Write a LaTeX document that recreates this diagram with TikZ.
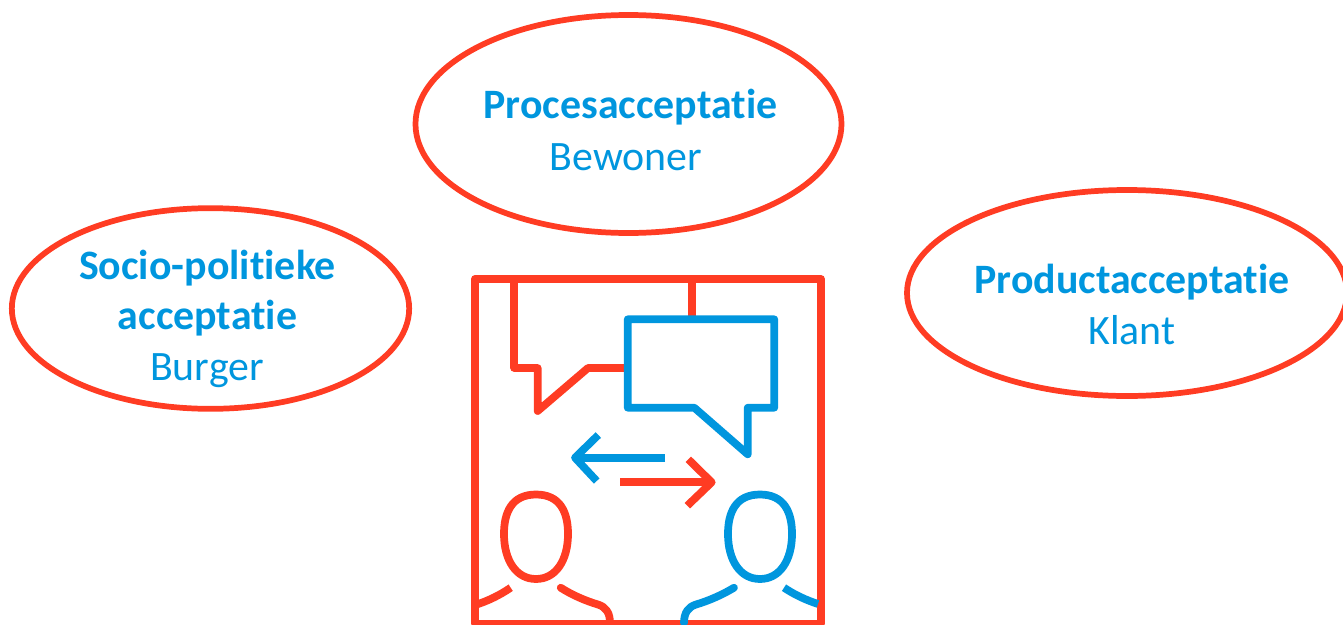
\documentclass[tikz,border=0pt]{standalone}
\usepackage{fontspec}
\setmainfont[Ligatures=NoCommon]{Carlito}
\usetikzlibrary{shapes.geometric}

\begin{document}
\begin{tikzpicture}[x=0.75pt,y=-0.75pt,
	ring/.style={draw=ringred,line width=4.3pt,ellipse,inner sep=0pt},
	title/.style={text=textblue,font=\fontsize{31.4}{31.4}\selectfont\bfseries},
	role/.style={text=textblue,font=\fontsize{31.4}{31.4}\selectfont},
	icon/.style={line width=5.8pt,line join=round,line cap=round}]
	\definecolor{ringred}{RGB}{255, 60, 35}
	\definecolor{textblue}{RGB}{0, 150, 222}
	\definecolor{iconblue}{RGB}{0, 150, 222}

	\useasboundingbox (0,0) rectangle (1343,625);

	\node[ring,minimum width=319.5pt,minimum height=163.5pt] (proces) at (628.5,124) {};
	\node[ring,minimum width=298pt,minimum height=150.5pt] (socio) at (210.5,308.5) {};
	\node[ring,minimum width=330pt,minimum height=154.5pt] (product) at (1127,293) {};

	\node[title] (procesTitle) at (630.5,107) {Procesacceptatie};
	\node[role] (procesRole) at (626,157) {Bewoner};
	\node[title] (socioTitle) at (207.5,268) {Socio-politieke};
	\node[title] (socioTitle2) at (207.5,318) {acceptatie};
	\node[role] (socioRole) at (207,371) {Burger};
	\node[title] (productTitle) at (1132,282) {Productacceptatie};
	\node[role] (productRole) at (1132,330.5) {Klant};

	\draw[icon,ringred] (475,279) rectangle (821,623.5);
	\draw[icon,ringred] (514,279) -- (514,368) -- (537.7,368) -- (537.7,411) -- (588,368) -- (625,368);
	\draw[icon,ringred] (692.3,279) -- (692.3,318);
	\draw[icon,iconblue] (627.7,319.3) -- (774.3,319.3) -- (774.3,407.7) -- (747.7,407.7) -- (747.7,454.3) -- (694.3,407.7) -- (627.7,407.7) -- cycle;

	\draw[icon,iconblue,line cap=butt] (665,457.7) -- (575,457.7);
	\draw[icon,iconblue,line cap=butt] (598.3,435) -- (575,457.7) -- (596.7,481);
	\draw[icon,ringred,line cap=butt] (620,482.3) -- (711.7,482.3);
	\draw[icon,ringred,line cap=butt] (688.3,459.3) -- (711.7,482.3) -- (687.3,505.7);

	\draw[icon,ringred] (536,494.5) .. controls (560,494.5) and (568,512) .. (568,534) .. controls (568,560) and (556,579) .. (536,579) .. controls (516,579) and (504,560) .. (504,534) .. controls (504,512) and (512,494.5) .. (536,494.5) -- cycle;
	\draw[icon,iconblue] (760,494.5) .. controls (784,494.5) and (792,512) .. (792,534) .. controls (792,560) and (780,579) .. (760,579) .. controls (740,579) and (728,560) .. (728,534) .. controls (728,512) and (736,494.5) .. (760,494.5) -- cycle;

	\draw[icon,ringred,line cap=butt] (475,605) .. controls (488,601) and (500,595) .. (510.7,587.7);
	\draw[icon,ringred] (560.7,587.7) .. controls (572,595) and (586,601) .. (598,604.5) .. controls (606,607) and (610,613) .. (610,623);
	\draw[icon,iconblue] (734,587.7) .. controls (722,595) and (708,601) .. (696,604.5) .. controls (688,607) and (684,613) .. (684,623);
	\draw[icon,iconblue,line cap=butt] (784,587.7) .. controls (795,595) and (806,600) .. (818,604);
\end{tikzpicture}
\end{document}
